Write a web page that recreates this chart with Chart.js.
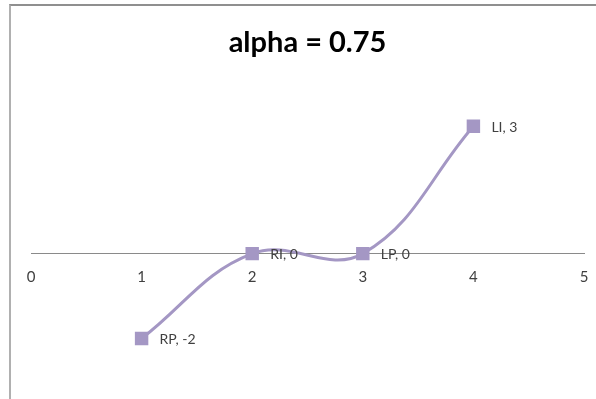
<!DOCTYPE html>
<html>
<head>
<meta charset="utf-8">
<script src="https://cdn.jsdelivr.net/npm/chart.js@4/dist/chart.umd.min.js"></script>
<style>
  html, body { margin: 0; padding: 0; background: #ffffff; }
  #wrap { position: relative; width: 596px; height: 399px; overflow: hidden; }
  #frame {
    position: absolute; left: 9px; top: 4px; width: 620px; height: 420px;
    border-top: 2px solid #8f8f8f; border-left: 2px solid #b0b0b0;
    pointer-events: none; box-sizing: border-box;
  }
  canvas { position: absolute; left: 0; top: 0; }
</style>
</head>
<body>
<div id="wrap">
  <canvas id="c" width="596" height="399"></canvas>
  <div id="frame"></div>
</div>
<script>
// Points of the curve and their names
const pointNames = ['RP', 'RI', 'LP', 'LI'];
const xValues = [1, 2, 3, 4];
const yValues = [-2, 0, 0, 3];
const xTicks = [0, 1, 2, 3, 4, 5];
const titleText = 'alpha = 0.75';

const seriesColor = '#a497c4';
const labelColor = '#404040';

const points = xValues.map((x, i) => ({ x: x, y: yValues[i] }));

// Writes "name, value" to the right of each marker
const pointLabels = {
  id: 'pointLabels',
  afterDatasetsDraw(chart) {
    const ctx = chart.ctx;
    const meta = chart.getDatasetMeta(0);
    ctx.save();
    ctx.font = '14px Lato, "Open Sans", sans-serif';
    ctx.fillStyle = labelColor;
    ctx.textAlign = 'left';
    ctx.textBaseline = 'middle';
    meta.data.forEach((el, i) => {
      ctx.fillText(pointNames[i] + ', ' + yValues[i], el.x + 18, el.y + 1);
    });
    ctx.restore();
  }
};

new Chart(document.getElementById('c'), {
  type: 'scatter',
  data: {
    datasets: [{
      data: points,
      showLine: true,
      borderColor: seriesColor,
      backgroundColor: seriesColor,
      borderWidth: 3,
      tension: 0.4,
      pointStyle: 'rect',
      pointRadius: 9.5,
      pointHoverRadius: 9.5,
      pointBorderWidth: 0
    }]
  },
  options: {
    responsive: false,
    animation: false,
    events: [],
    layout: { padding: { left: 31, right: 12, top: 12, bottom: 18 } },
    plugins: {
      legend: { display: false },
      tooltip: { enabled: false },
      title: {
        display: true,
        text: titleText,
        color: '#000000',
        font: { family: 'Lato, "Open Sans", sans-serif', size: 29, weight: 'bold' },
        padding: { top: 13, bottom: 24 }
      }
    },
    scales: {
      x: {
        type: 'linear',
        position: { y: 0 },
        min: 0,
        max: 5,
        afterBuildTicks: (scale) => { scale.ticks = xTicks.map(v => ({ value: v })); },
        afterFit: (scale) => { scale.height = 0; },
        grid: { display: false, drawTicks: true, tickLength: 12 },
        border: { display: true, color: '#8a8a8a', width: 1 },
        ticks: {
          padding: 3,
          color: labelColor,
          font: { family: 'Lato, "Open Sans", sans-serif', size: 15 }
        }
      },
      y: {
        type: 'linear',
        display: false,
        min: -3,
        max: 4
      }
    }
  },
  plugins: [pointLabels]
});
</script>
</body>
</html>
